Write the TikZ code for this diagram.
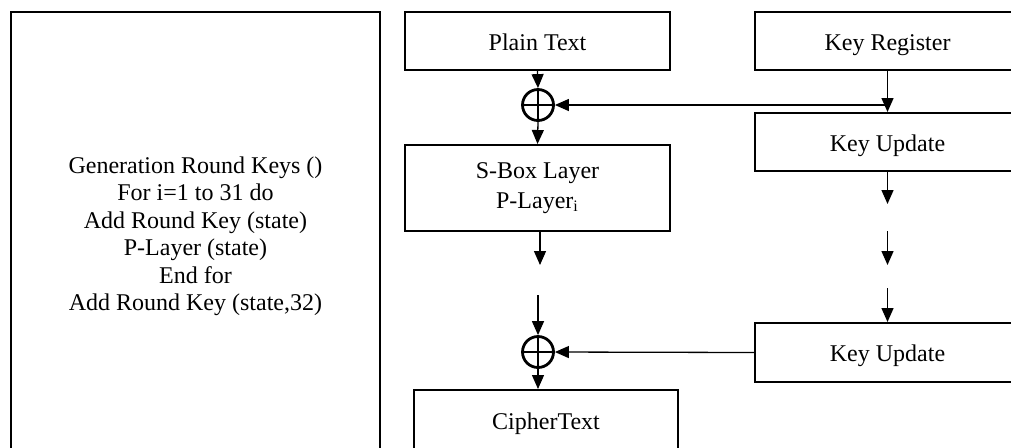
\documentclass[tikz,border=0pt]{standalone}
\usepackage{fontspec}
\setmainfont{Liberation Serif}
\usetikzlibrary{arrows.meta}
\begin{document}
\begin{tikzpicture}[x=0.5pt,y=-0.5pt,
  box/.style={draw,line width=1pt,inner sep=0pt,font={\fontsize{12}{15}\selectfont},align=center},
  onebox/.style={box,text height=10.5pt,text depth=1.5pt},
  xorn/.style={draw,circle,line width=1.4pt,minimum size=15.5pt,inner sep=0pt},
  arr/.style={line width=0.65pt,-{Triangle[length=7pt,width=6pt]}},
  conn/.style={line width=0.65pt}]
\useasboundingbox (0,0) rectangle (1011,447);
\clip (0,0) rectangle (1011,447);
% left algorithm box
\node[box,minimum width=184.5pt,minimum height=224pt,font={\fontsize{12}{13.75}\selectfont}] (alg) at (195.5,236)
  {Generation Round Keys ()\\For i=1 to 31 do\\Add Round Key (state)\\P-Layer (state)\\End for\\Add Round Key (state,32)};
% main column
\node[onebox,minimum width=132.5pt,minimum height=29pt] (pt) at (537.5,41) {Plain Text};
\node[xorn] (x1) at (538,105) {};
\draw[line width=1pt] (x1.north) -- (x1.south) (x1.west) -- (x1.east);
\node[box,minimum width=132.5pt,minimum height=43pt] (sb) at (537.5,188) {S-Box Layer\\P-Layer\textsubscript{i}};
\node[xorn] (x2) at (538,352) {};
\draw[line width=1pt] (x2.north) -- (x2.south) (x2.west) -- (x2.east);
\node[onebox,minimum width=132pt,minimum height=30pt] (ct) at (546,420) {CipherText};
% key column
\node[onebox,minimum width=132.5pt,minimum height=29pt] (kr) at (887.5,41) {Key Register};
\node[onebox,minimum width=132.5pt,minimum height=29pt] (ku1) at (887.5,142) {Key Update};
\node[onebox,minimum width=132.5pt,minimum height=29.5pt] (ku2) at (887.5,352.5) {Key Update};
% coordinates for free ends
\coordinate (j1) at (kr.south |- x1.east);
\coordinate (a1) at (540,265);
\coordinate (a2) at (538,295);
\coordinate (b1) at (887.5,204);
\coordinate (b2) at (887.5,231);
\coordinate (b3) at (887.5,265);
\coordinate (b4) at (887.5,288);
% connectors
\draw[arr] (pt.south) -- (x1.north);
\draw[arr] (x1.south) -- (sb.north);
\draw[arr] (kr.south) -- (ku1.north);
\draw[arr] (j1) -- (x1.east);
\draw[arr] (sb.south -| a1) -- (a1);
\draw[arr] (a2) -- (x2.north);
\draw[arr] (x2.south) -- (ct.north -| x2.south);
\draw[arr] (ku1.south) -- (b1);
\draw[arr] (b2) -- (b3);
\draw[arr] (b4) -- (ku2.north);
\draw[arr] (ku2.west) -- (x2.east);
\end{tikzpicture}
\end{document}
